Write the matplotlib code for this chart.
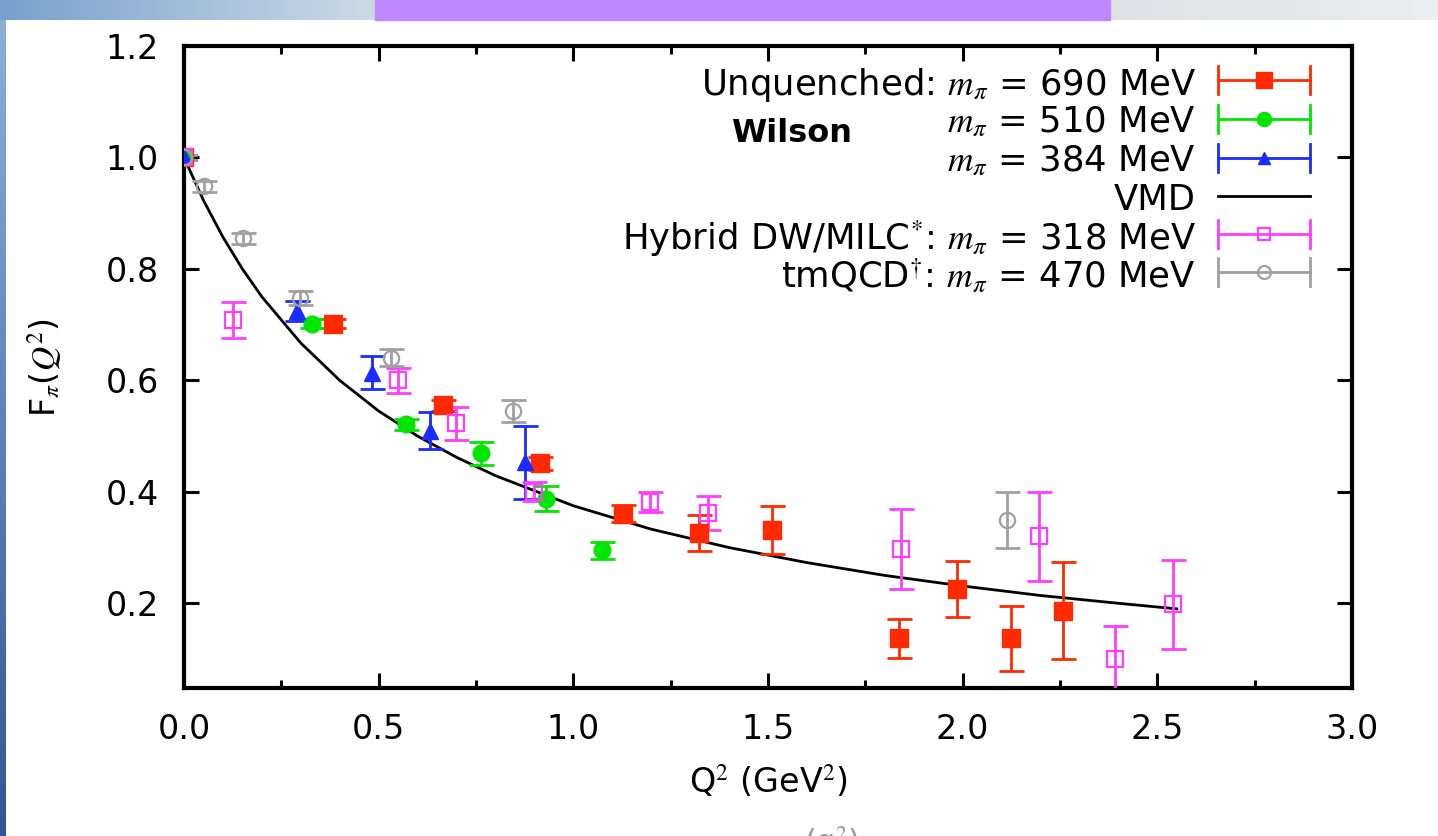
import matplotlib
matplotlib.use('Agg')

import matplotlib.pyplot as plt
import numpy as np
from matplotlib.patches import Rectangle
from matplotlib.ticker import MultipleLocator

plt.rcParams['font.family'] = ['DejaVu Sans']
plt.rcParams['mathtext.fontset'] = 'stix'

# ---- data ----
# Unquenched Wilson, m_pi = 690 MeV
q_690 = [0.0, 0.383, 0.665, 0.914, 1.128, 1.323, 1.510, 1.837, 1.986, 2.124, 2.258]
f_690 = [1.000, 0.702, 0.555, 0.451, 0.361, 0.326, 0.331, 0.137, 0.225, 0.137, 0.187]
e_690 = [0.005, 0.008, 0.010, 0.012, 0.015, 0.032, 0.043, 0.035, 0.050, 0.058, 0.087]

# m_pi = 510 MeV
q_510 = [0.0, 0.330, 0.570, 0.763, 0.930, 1.074]
f_510 = [1.000, 0.702, 0.521, 0.469, 0.388, 0.295]
e_510 = [0.005, 0.008, 0.010, 0.021, 0.022, 0.015]

# m_pi = 384 MeV
q_384 = [0.0, 0.290, 0.483, 0.632, 0.876]
f_384 = [1.000, 0.725, 0.614, 0.510, 0.453]
e_384 = [0.005, 0.018, 0.030, 0.033, 0.065]

# Hybrid DW/MILC, m_pi = 318 MeV
q_318 = [0.0, 0.126, 0.550, 0.699, 0.899, 1.197, 1.346, 1.842, 2.196, 2.391, 2.541]
f_318 = [1.000, 0.708, 0.600, 0.523, 0.400, 0.381, 0.362, 0.297, 0.320, 0.100, 0.198]
e_318 = [0.005, 0.032, 0.022, 0.030, 0.017, 0.018, 0.030, 0.072, 0.080, 0.060, 0.080]

# tmQCD, m_pi = 470 MeV
q_470 = [0.0, 0.051, 0.152, 0.298, 0.532, 0.845, 2.114]
f_470 = [1.000, 0.948, 0.855, 0.748, 0.641, 0.545, 0.349]
e_470 = [0.005, 0.010, 0.010, 0.012, 0.015, 0.020, 0.050]

# VMD curve, values
q_vmd = [0.0, 0.05, 0.1, 0.15, 0.2, 0.3, 0.4, 0.5, 0.6, 0.7, 0.8, 1.0, 1.2, 1.4,
         1.6, 1.8, 2.0, 2.2, 2.4, 2.55]
f_vmd = [1.000, 0.923, 0.857, 0.800, 0.750, 0.667, 0.600, 0.545, 0.500, 0.462,
         0.429, 0.375, 0.333, 0.300, 0.273, 0.250, 0.231, 0.214, 0.200, 0.190]

labels = ['Unquenched: $m_\\pi$ = 690 MeV',
          '$m_\\pi$ = 510 MeV',
          '$m_\\pi$ = 384 MeV',
          'VMD',
          'Hybrid DW/MILC$^{*}$: $m_\\pi$ = 318 MeV',
          'tmQCD$^{\\dagger}$: $m_\\pi$ = 470 MeV']

# ---- styles ----
series = [
    (q_690, f_690, e_690, dict(color='#ff2a00', marker='s', ms=13, mfc='#ff2a00')),
    (q_510, f_510, e_510, dict(color='#00e600', marker='o', ms=12, mfc='#00e600')),
    (q_384, f_384, e_384, dict(color='#1a2cff', marker='^', ms=11, mfc='#1a2cff')),
    None,
    (q_318, f_318, e_318, dict(color='#ff3dff', marker='s', ms=11, mfc='none', mew=1.6)),
    (q_470, f_470, e_470, dict(color='#a0a0a0', marker='o', ms=11, mfc='none', mew=1.6)),
]

FS = 24
FS_LEG = 25.5
W, H = 1438, 836
fig = plt.figure(figsize=(W / 100, H / 100), dpi=100)

# slide decoration: top strip and left strip
def grad_axes(rect, c0, c1, horizontal=True):
    a = fig.add_axes(rect)
    t = np.linspace(0, 1, 256)
    c0 = np.array(c0) / 255.0
    c1 = np.array(c1) / 255.0
    img = c0[None, :] * (1 - t[:, None]) + c1[None, :] * t[:, None]
    if horizontal:
        img = img[None, :, :]
    else:
        img = img[:, None, :]
    a.imshow(img, aspect='auto', extent=(0, 1, 0, 1), origin='upper')
    a.set_axis_off()
    return a

grad_axes([0, 1 - 20 / H, 375 / W, 20 / H], (120, 160, 205), (205, 218, 230))
fig.patches.append(Rectangle((375 / W, 1 - 20 / H), (1110 - 375) / W, 20 / H,
                             transform=fig.transFigure, color='#bf88ff', zorder=0))
grad_axes([1110 / W, 1 - 20 / H, (W - 1110) / W, 20 / H], (222, 226, 230), (236, 238, 240))
grad_axes([0, 0, 6 / W, 1 - 20 / H], (140, 175, 215), (50, 85, 150), horizontal=False)

# cut-off caption under the chart, only its top shows
fig.text(832 / W, -6 / H, '(q$^2$)', ha='center', va='center', fontsize=22,
         color='#9a9a9a')

ax = fig.add_axes([184 / W, (H - 688) / H, (1352 - 184) / W, (688 - 46) / H])

ax.plot(q_vmd, f_vmd, color='black', lw=2.0, zorder=2)

for s in series:
    if s is None:
        continue
    q, f, e, st = s
    ax.errorbar(q, f, yerr=e, fmt='none', ecolor=st['color'], elinewidth=2.0,
                capsize=9, capthick=2.0, zorder=3)
    ax.plot(q, f, ls='none', marker=st['marker'], ms=st['ms'], mfc=st['mfc'],
            mec=st['color'], mew=st.get('mew', 1.0), zorder=4)

ax.set_xlim(0, 3.0)
ax.set_ylim(0.048, 1.2)
ax.xaxis.set_minor_locator(MultipleLocator(0.25))
ax.set_xticks([0.0, 0.5, 1.0, 1.5, 2.0, 2.5, 3.0])
ax.set_xticklabels(['0.0', '0.5', '1.0', '1.5', '2.0', '2.5', '3.0'])
ax.set_yticks([0.2, 0.4, 0.6, 0.8, 1.0, 1.2])
ax.set_yticklabels(['0.2', '0.4', '0.6', '0.8', '1.0', '1.2'])
ax.tick_params(which='both', direction='in', top=True, right=True, width=2.2,
               labelsize=FS)
ax.tick_params(axis='x', pad=18)
ax.tick_params(axis='y', pad=18)
ax.tick_params(which='major', length=11)
ax.tick_params(which='minor', length=6)
for sp in ax.spines.values():
    sp.set_linewidth(3)

ax.set_xlabel('Q$^2$ (GeV$^2$)', fontsize=FS, labelpad=12)
ax.set_ylabel('F$_\\pi$($Q^2$)', fontsize=FS, labelpad=30)

# legend drawn by hand, gnuplot style (text right aligned, sample on the right)
def ax_x(px):
    return (px - 184) / (1352 - 184)

def ax_y(py):
    return (688 - py) / (688 - 46)

row_y = [80, 119, 158, 196, 234, 272]
x_text, x0, x1, xm = ax_x(1196), ax_x(1218), ax_x(1310), ax_x(1264)
cap = 14 / (688 - 46)
for i, lab in enumerate(labels):
    y = ax_y(row_y[i])
    ax.text(x_text, y, lab, transform=ax.transAxes, ha='right', va='center_baseline',
            fontsize=FS_LEG)
    s = series[i]
    if s is None:
        ax.plot([x0, x1], [y, y], color='black', lw=2.0, transform=ax.transAxes,
                clip_on=False)
        continue
    st = s[3]
    c = st['color']
    ax.plot([x0, x1], [y, y], color=c, lw=2.0, transform=ax.transAxes, clip_on=False)
    for xx in (x0, x1):
        ax.plot([xx, xx], [y - cap, y + cap], color=c, lw=2.0,
                transform=ax.transAxes, clip_on=False)
    ax.plot([xm], [y], ls='none', marker=st['marker'], ms=st['ms'] * 0.85,
            mfc=st['mfc'], mec=c, mew=st.get('mew', 1.0), transform=ax.transAxes,
            clip_on=False, zorder=5)

ax.text(ax_x(792), ax_y(133), 'Wilson', transform=ax.transAxes, ha='center',
        va='center', fontsize=23, fontweight='bold')

fig.savefig('out.png', dpi=100)
